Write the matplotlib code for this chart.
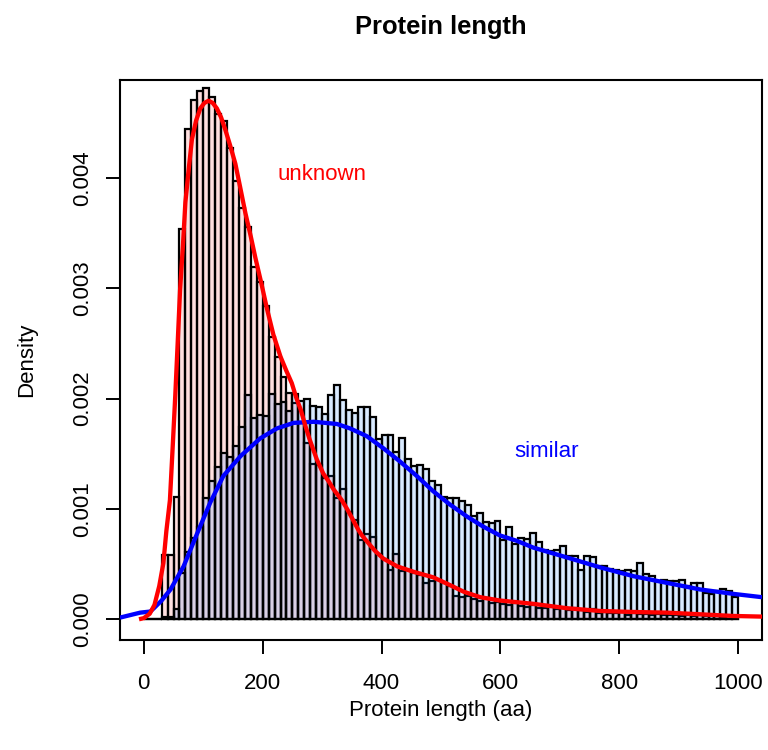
import numpy as np
import matplotlib
matplotlib.use("Agg")
import matplotlib.pyplot as plt

plt.rcParams['font.family'] = ['Liberation Sans', 'DejaVu Sans']

# histogram bins: 0..1000 in steps of 10
bin_edges = np.arange(0, 1001, 10)

# density of the 'unknown' set, one value per bin
unknown_hist = [
    0, 0, 0, 0.00058, 0.00058, 0.00111, 0.00354, 0.00444, 0.00471, 0.00479,
    0.00482, 0.00473, 0.00458, 0.00452, 0.00427, 0.00397, 0.00373, 0.00356, 0.00319, 0.00306,
    0.00284, 0.00256, 0.00238, 0.00220, 0.00205, 0.00196, 0.00178, 0.00160, 0.00141, 0.00140,
    0.00128, 0.00130, 0.00110, 0.00118, 0.00097, 0.00090, 0.00072, 0.00077, 0.00075, 0.00059,
    0.00055, 0.00045, 0.00059, 0.00044, 0.00045, 0.00042, 0.00040, 0.00033, 0.00035, 0.00036,
    0.00033, 0.00030, 0.00021, 0.00020, 0.00021, 0.00018, 0.00017, 0.00019, 0.00015, 0.00016,
    0.00014, 0.00013, 0.00015, 0.00012, 0.00011, 0.00013, 0.00010, 0.00010, 0.00012, 0.00009,
    0.00010, 0.00008, 0.00010, 0.00008, 0.00007, 0.00009, 0.00006, 0.00007, 0.00006, 0.00006,
    0.00007, 0.00004, 0.00006, 0.00005, 0.00005, 0.00004, 0.00005, 0.00004, 0.00004, 0.00004,
    0.00003, 0.00004, 0.00003, 0.00004, 0.00003, 0.00003, 0.00003, 0.00002, 0.00003, 0.00003,
]

# density of the 'similar' set
similar_hist = [
    0, 0, 0, 0.00002, 0.00002, 0.00009, 0.00042, 0.00061, 0.00074, 0.00084,
    0.00110, 0.00125, 0.00138, 0.00151, 0.00147, 0.00157, 0.00174, 0.00203, 0.00182, 0.00185,
    0.00184, 0.00204, 0.00195, 0.00197, 0.00189, 0.00204, 0.00198, 0.00200, 0.00193, 0.00192,
    0.00186, 0.00203, 0.00212, 0.00199, 0.00190, 0.00187, 0.00192, 0.00192, 0.00183, 0.00163,
    0.00167, 0.00167, 0.00152, 0.00164, 0.00145, 0.00139, 0.00140, 0.00136, 0.00125, 0.00122,
    0.00111, 0.00110, 0.00110, 0.00107, 0.00104, 0.00094, 0.00096, 0.00088, 0.00087, 0.00089,
    0.00072, 0.00084, 0.00068, 0.00074, 0.00073, 0.00078, 0.00070, 0.00063, 0.00062, 0.00063,
    0.00066, 0.00057, 0.00057, 0.00045, 0.00057, 0.00056, 0.00048, 0.00048, 0.00046, 0.00045,
    0.00044, 0.00045, 0.00044, 0.00051, 0.00041, 0.00039, 0.00035, 0.00036, 0.00035, 0.00035,
    0.00036, 0.00030, 0.00033, 0.00033, 0.00024, 0.00023, 0.00026, 0.00027, 0.00026, 0.00020,
]

# kernel density curves
unknown_kde_x = [-8, 0, 10, 18, 26, 33, 38, 44, 49, 53, 57, 61, 66, 70, 76, 81, 88, 95, 102,
                 109, 116, 123, 130, 137, 145, 154, 162, 171, 180, 188, 198, 207, 218, 230,
                 240, 249, 257, 264, 272, 279, 285, 291, 302, 311, 319, 333, 342, 350, 361,
                 367, 381, 389, 403, 426, 454, 487, 515, 538, 566, 599, 655, 712, 768, 823,
                 880, 936, 991, 1040]
unknown_kde_y = [0, 0.00001, 0.00005, 0.00013, 0.00030, 0.00051, 0.00080, 0.00108, 0.00160,
                 0.00203, 0.00250, 0.00298, 0.00340, 0.00378, 0.00410, 0.00435, 0.00452,
                 0.00463, 0.00468, 0.00470, 0.00468, 0.00463, 0.00455, 0.00444, 0.00430,
                 0.00413, 0.00392, 0.00368, 0.00347, 0.00327, 0.00304, 0.00282, 0.00258,
                 0.00238, 0.00225, 0.00214, 0.00200, 0.00190, 0.00175, 0.00163, 0.00154,
                 0.00145, 0.00132, 0.00125, 0.00118, 0.00108, 0.00100, 0.00092, 0.00081,
                 0.00076, 0.00067, 0.00062, 0.00055, 0.00048, 0.00043, 0.00038, 0.00031,
                 0.00025, 0.00020, 0.00017, 0.00014, 0.00010, 0.000075, 0.000066, 0.00006,
                 0.000045, 0.00003, 0.000024]

similar_kde_x = [-40, -6, 11, 17, 30, 45, 67, 90, 112, 134, 163, 196, 224, 252, 286, 325, 347,
                 375, 403, 431, 459, 487, 515, 544, 571, 599, 628, 655, 712, 768, 824, 880,
                 936, 992, 1040]
similar_kde_y = [0.000015, 0.00006, 0.00007, 0.00010, 0.00017, 0.00027, 0.00048, 0.00078,
                 0.00106, 0.00130, 0.00148, 0.00164, 0.00173, 0.00178, 0.00179, 0.00177,
                 0.00173, 0.00166, 0.00155, 0.00143, 0.00130, 0.00116, 0.00104, 0.00093,
                 0.00084, 0.00076, 0.00071, 0.00065, 0.00056, 0.00047, 0.00039, 0.00033,
                 0.00027, 0.00023, 0.00020]

fig = plt.figure(figsize=(7.68, 7.5), dpi=100)
ax = fig.add_axes([120 / 768, 110 / 750, 642 / 768, 560 / 750])

left = bin_edges[:-1]
ax.bar(left, unknown_hist, width=10, align='edge', facecolor=(1, 0, 0, 0.12),
       edgecolor='black', linewidth=1.6, zorder=2)
ax.bar(left, similar_hist, width=10, align='edge', facecolor=(0, 0.45, 1, 0.15),
       edgecolor='black', linewidth=1.6, zorder=3)

ax.plot(similar_kde_x, similar_kde_y, color='#0000FF', lw=3.1, zorder=4,
        solid_capstyle='butt')
ax.plot(unknown_kde_x, unknown_kde_y, color='#FF0000', lw=3.1, zorder=5,
        solid_capstyle='butt')

ax.text(300, 0.00403, 'unknown', color='#FF0000', fontsize=16, ha='center', va='center')
ax.text(677, 0.00152, 'similar', color='#0000FF', fontsize=16, ha='center', va='center')

ax.set_xlim(-40, 1040)
ax.set_ylim(-0.000188, 0.004888)
ax.set_xticks([0, 200, 400, 600, 800, 1000])
ax.set_yticks([0, 0.001, 0.002, 0.003, 0.004])
ax.set_yticklabels(['0.000', '0.001', '0.002', '0.003', '0.004'], rotation=90, va='center')
ax.tick_params(direction='out', length=10, width=1.4, labelsize=16)
ax.tick_params(axis='x', pad=14)
ax.tick_params(axis='y', pad=9)
for s in ax.spines.values():
    s.set_linewidth(1.5)

fig.text(441 / 768, 1 - 34 / 750, 'Protein length', fontsize=18.4, fontweight='bold',
         ha='center', va='baseline')
fig.text(441 / 768, 1 - 716 / 750, 'Protein length (aa)', fontsize=16,
         ha='center', va='baseline')
fig.text(27 / 768, 1 - 360 / 750, 'Density', fontsize=16, rotation=90,
         ha='center', va='center')

fig.savefig('out.png', dpi=100)
